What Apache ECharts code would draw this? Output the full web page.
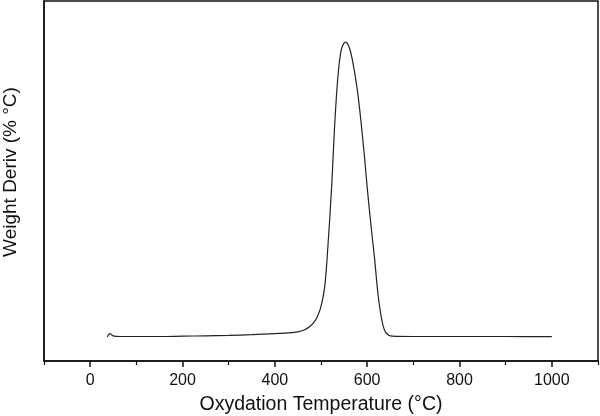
<!DOCTYPE html>
<html>
<head>
<meta charset="utf-8">
<script src="https://cdn.jsdelivr.net/npm/echarts@6/dist/echarts.min.js"></script>
<style>
  html, body { margin: 0; padding: 0; background: #fff; }
  #main { width: 600px; height: 416px; }
</style>
</head>
<body>
<div id="main"></div>
<script>
// DTG curve (temperature in °C, derivative in arbitrary units)
const temps = [37, 40, 43, 47, 52, 65, 100, 150, 200, 250, 300, 350, 400, 430, 450, 465, 475, 485, 492, 500,
  508, 514, 523, 529, 536, 544, 553, 562, 572, 580, 587, 594, 600, 608, 616, 624, 633, 641, 654, 700, 800, 900, 1000];
const deriv = [6.7, 7.3, 7.6, 7.2, 6.9, 6.8, 6.8, 6.8, 6.9, 7.0, 7.1, 7.3, 7.6, 7.8, 8.1, 8.7, 9.5, 10.8, 12.3, 15.1,
  20.6, 30, 48.3, 64, 78, 86.5, 88.6, 86.8, 80.8, 74, 66, 57, 48.3, 38, 28.5, 18, 10.6, 7.8, 6.9, 6.8, 6.8, 6.8, 6.75];
const majorTicks = [0, 200, 400, 600, 800, 1000];
const minorTicks = [-100, 100, 300, 500, 700, 900, 1100];

const font = "'Liberation Sans', Arial, sans-serif";
const chart = echarts.init(document.getElementById('main'));

chart.setOption({
  animation: false,
  grid: {
    left: 44, top: 1, right: 2, bottom: 55,
    outerBoundsMode: 'none', containLabel: false,
    show: true, borderColor: '#111', borderWidth: 1.5, backgroundColor: 'transparent'
  },
  xAxis: [
    {
      type: 'value', min: -100, max: 1100,
      name: 'Oxydation Temperature (°C)', nameLocation: 'middle', nameGap: 34,
      nameTextStyle: { fontFamily: font, fontSize: 19.5, color: '#111' },
      axisLine: { show: true, onZero: false, lineStyle: { color: '#111', width: 1.5 } },
      axisTick: { show: true, customValues: majorTicks, length: 6, lineStyle: { color: '#111', width: 1.5 } },
      axisLabel: { customValues: majorTicks, margin: 12, fontFamily: font, fontSize: 16, color: '#111',
        formatter: v => String(v) },
      splitLine: { show: false }
    },
    {
      type: 'value', min: -100, max: 1100, position: 'bottom',
      axisLine: { show: false, onZero: false },
      axisTick: { show: true, customValues: minorTicks, length: 4, lineStyle: { color: '#111', width: 1.2 } },
      axisLabel: { show: false },
      splitLine: { show: false }
    }
  ],
  yAxis: {
    type: 'value', min: 0, max: 100,
    name: 'Weight Deriv (% °C)', nameLocation: 'middle', nameGap: 24,
    nameTextStyle: { fontFamily: font, fontSize: 19, color: '#111', padding: [0, 0, 0, 18] },
    axisLine: { show: true, onZero: false, lineStyle: { color: '#111', width: 1.5 } },
    axisTick: { show: false },
    axisLabel: { show: false },
    splitLine: { show: false }
  },
  series: [{
    type: 'line',
    xAxisIndex: 0,
    data: temps.map((t, i) => [t, deriv[i]]),
    smooth: 0.35,
    showSymbol: false,
    lineStyle: { color: '#222', width: 1.2 }
  }]
});
</script>
</body>
</html>
